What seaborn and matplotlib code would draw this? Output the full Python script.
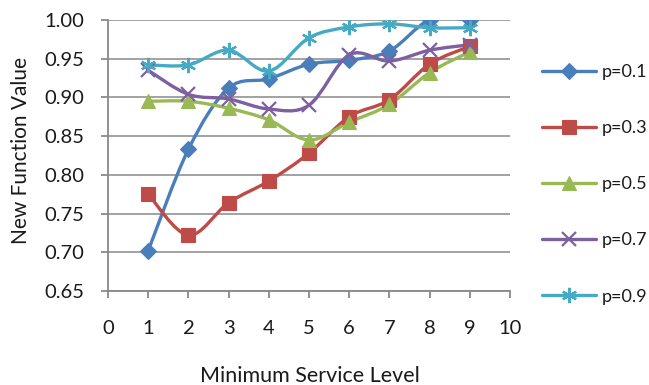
import numpy as np
import pandas as pd
import matplotlib
matplotlib.use("Agg")
import matplotlib.pyplot as plt
from matplotlib.path import Path
from matplotlib.patches import PathPatch
from matplotlib.lines import Line2D
import seaborn as sns

# Minimum service level (x) and the new function value for each p
service_level = [1, 2, 3, 4, 5, 6, 7, 8, 9]
p01 = [0.702, 0.833, 0.912, 0.924, 0.943, 0.948, 0.960, 1.000, 1.000]
p03 = [0.775, 0.722, 0.764, 0.792, 0.828, 0.875, 0.897, 0.943, 0.966]
p05 = [0.895, 0.895, 0.886, 0.871, 0.845, 0.868, 0.891, 0.932, 0.959]
p07 = [0.935, 0.904, 0.898, 0.885, 0.890, 0.955, 0.947, 0.961, 0.968]
p09 = [0.942, 0.942, 0.961, 0.934, 0.977, 0.991, 0.995, 0.990, 0.990]
series_labels = ["p=0.1", "p=0.3", "p=0.5", "p=0.7", "p=0.9"]
x_ticks = list(range(0, 11))
y_ticks = [0.65, 0.70, 0.75, 0.80, 0.85, 0.90, 0.95, 1.00]

colors = ["#4A7EBB", "#BE4B48", "#98B954", "#7D60A0", "#46AAC5"]
markers = ["D", "s", "^", "x", (6, 2, 0)]
msizes = [8.5, 10.5, 10.5, 10, 11]

sns.set_theme(style="white")
plt.rcParams["font.family"] = ["Lato", "DejaVu Sans"]

GRID = "#898989"
TXT = "#1a1a1a"
FS = 14.5
fig = plt.figure(figsize=(6.49, 3.85), dpi=100)
ax = fig.add_axes([108 / 649, 1 - 291 / 385, 402 / 649, 271 / 385])


def smooth_path(xs, ys):
    """Cubic Bezier path through the points (Catmull-Rom style control points)."""
    pts = np.column_stack([xs, ys]).astype(float)
    n = len(pts)
    verts = [pts[0]]
    codes = [Path.MOVETO]
    for i in range(n - 1):
        p0 = pts[i - 1] if i > 0 else pts[i]
        p1 = pts[i]
        p2 = pts[i + 1]
        p3 = pts[i + 2] if i + 2 < n else pts[i + 1]
        c1 = p1 + (p2 - p0) / 6.0
        c2 = p2 - (p3 - p1) / 6.0
        verts += [c1, c2, p2]
        codes += [Path.CURVE4] * 3
    return Path(np.array(verts), codes)


all_series = [p01, p03, p05, p07, p09]
for vals, lab, col, mk, ms in zip(all_series, series_labels, colors, markers, msizes):
    patch = PathPatch(smooth_path(service_level, vals), facecolor="none",
                      edgecolor=col, lw=2.4, transform=ax.transData, zorder=3,
                      capstyle="round", joinstyle="round")
    ax.add_patch(patch)
    df = pd.DataFrame({"x": service_level, "y": vals})
    line_art = mk in ("x",) or isinstance(mk, tuple)
    sns.lineplot(data=df, x="x", y="y", ax=ax, color=col, marker=mk,
                 linestyle="", markersize=ms, markeredgewidth=1.6 if line_art else 0.8,
                 markeredgecolor=col, zorder=4, legend=False)

ax.set_xlim(0, 10)
ax.set_ylim(0.65, 1.00)
ax.set_xticks(x_ticks)
ax.set_yticks(y_ticks)
ax.set_yticklabels([f"{v:.2f}" for v in y_ticks])
ax.yaxis.grid(True, color=GRID, lw=1.1)
ax.xaxis.grid(False)
ax.set_axisbelow(True)
for side in ["top", "right"]:
    ax.spines[side].set_visible(False)
for side in ["left", "bottom"]:
    ax.spines[side].set_color(GRID)
    ax.spines[side].set_linewidth(1.3)
ax.tick_params(axis="x", direction="out", length=5, width=1.3, color=GRID,
               pad=16, labelsize=FS, labelcolor=TXT, bottom=True)
ax.tick_params(axis="y", direction="out", length=5, width=1.3, color=GRID,
               pad=12, labelsize=FS, labelcolor=TXT, left=True)
ax.set_xlabel("")
ax.set_ylabel("")
fig.text(310 / 649, 1 - 376 / 385, "Minimum Service Level", ha="center", va="center",
         fontsize=15.5, color=TXT)
fig.text(21 / 649, 1 - 151 / 385, "New Function Value", ha="center", va="center",
         rotation=90, fontsize=15, color=TXT)

handles = []
for lab, col, mk, ms in zip(series_labels, colors, markers, msizes):
    line_art = mk in ("x",) or isinstance(mk, tuple)
    handles.append(Line2D([0], [0], color=col, lw=2.4, marker=mk, markersize=ms,
                          markeredgecolor=col,
                          markeredgewidth=1.6 if line_art else 0.8, label=lab))
leg = fig.legend(handles=handles, loc="upper left", bbox_to_anchor=(535 / 649, 1 - 57 / 385),
                 frameon=False, fontsize=13, handlelength=3.0, handletextpad=0.3,
                 labelspacing=2.22, borderaxespad=0)
for t in leg.get_texts():
    t.set_color(TXT)

fig.savefig("out.png", dpi=100)
